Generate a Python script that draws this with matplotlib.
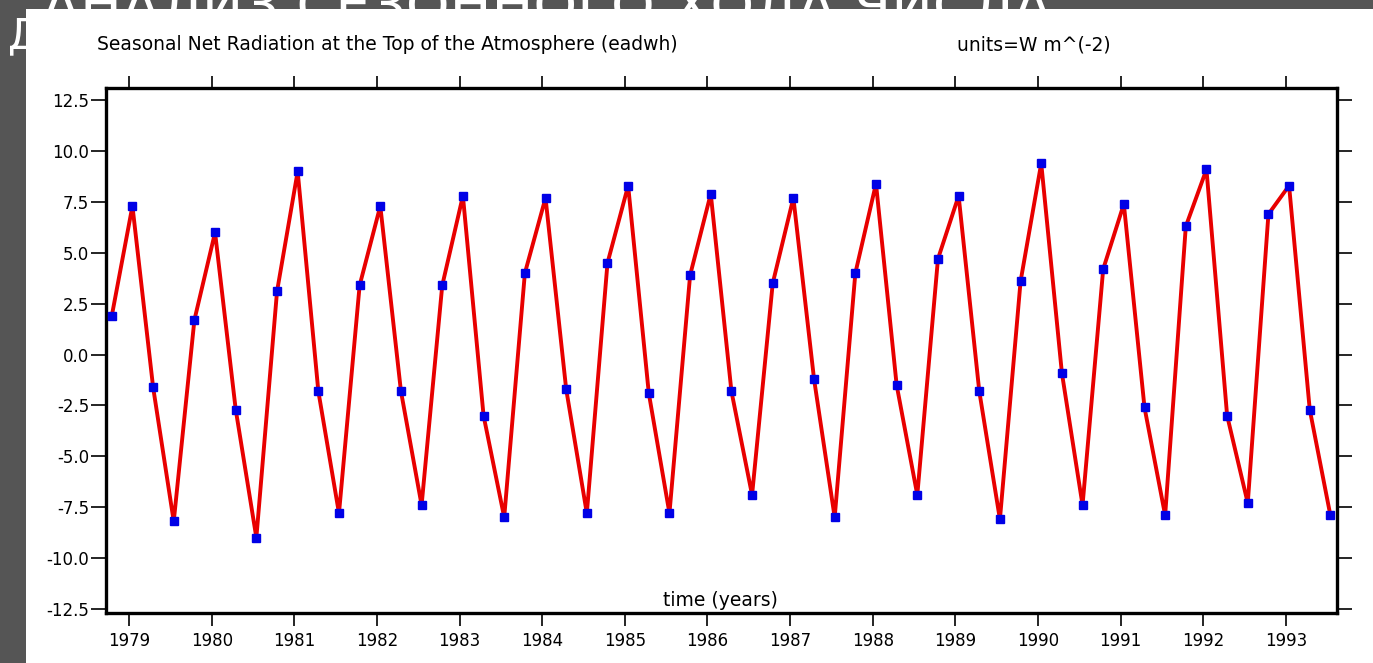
"""
Seasonal net radiation at the top of the atmosphere (eadwh), 1978-1993
"""

import numpy as np
import matplotlib.pyplot as plt
from matplotlib.patches import Rectangle

plt.rcParams['font.family'] = ['DejaVu Sans']

# seasonal means: SON 1978 ... JJA 1993 (4 seasons per year)
start_year = 1978.79
season_step = 0.25
net_rad = [
    1.9, 7.3, -1.6, -8.2,
    1.7, 6.0, -2.7, -9.0,
    3.1, 9.0, -1.8, -7.8,
    3.4, 7.3, -1.8, -7.4,
    3.4, 7.8, -3.0, -8.0,
    4.0, 7.7, -1.7, -7.8,
    4.5, 8.3, -1.9, -7.8,
    3.9, 7.9, -1.8, -6.9,
    3.5, 7.7, -1.2, -8.0,
    4.0, 8.4, -1.5, -6.9,
    4.7, 7.8, -1.8, -8.1,
    3.6, 9.4, -0.9, -7.4,
    4.2, 7.4, -2.6, -7.9,
    6.3, 9.1, -3.0, -7.3,
    6.9, 8.3, -2.7, -7.9,
]
years = list(range(1979, 1994))
y_ticks = [12.5, 10.0, 7.5, 5.0, 2.5, 0.0, -2.5, -5.0, -7.5, -10.0, -12.5]

time = start_year + season_step * np.arange(len(net_rad))

W, H = 1373, 663
fig = plt.figure(figsize=(W / 100, H / 100), dpi=100, facecolor='#555555')

# slide heading mostly hidden behind the white chart panel
fig.text(42 / W, 1 - 24 / H, 'АНАЛИЗ СЕЗОННОГО ХОДА ЧИСЛА',
         color='white', fontsize=40, zorder=0)
fig.text(8 / W, 1 - 48 / H, 'Д', color='white', fontsize=30, zorder=0)
fig.patches.append(Rectangle((26 / W, 0), 1, 1 - 9 / H, transform=fig.transFigure,
                             facecolor='white', edgecolor='none', zorder=1))

ax = fig.add_axes([106 / W, 50 / H, 1231 / W, 525 / H])
ax.set_zorder(2)

ax.plot(time, net_rad, color='#e80000', lw=2.8, zorder=2)
ax.plot(time, net_rad, 's', color='#0000e6', ms=6, mec='#0000e6', zorder=3)

ax.set_xlim(1978.72, 1993.62)
ax.set_ylim(-12.7, 13.1)
ax.set_xticks(years)
ax.set_xticklabels([str(y) for y in years])
ax.set_yticks(y_ticks)
ax.set_yticklabels([f'{v:.1f}' for v in y_ticks])

for side in ax.spines.values():
    side.set_linewidth(2.4)
ax.tick_params(axis='both', direction='out', length=9, width=1.2,
               labelsize=12, top=True, right=True, pad=5)
ax.tick_params(axis='y', length=11, pad=1)

ax.text(0.499, 0.006, 'time (years)', transform=ax.transAxes, ha='center',
        va='bottom', fontsize=13.5)

fig.text(97 / W, 1 - 45 / H, 'Seasonal Net Radiation at the Top of the Atmosphere (eadwh)',
         fontsize=13.5, va='center', zorder=3)
fig.text(957 / W, 1 - 45 / H, 'units=W m^(-2)', fontsize=13.5, va='center', zorder=3)

fig.savefig('out.png', dpi=100, facecolor=fig.get_facecolor())
